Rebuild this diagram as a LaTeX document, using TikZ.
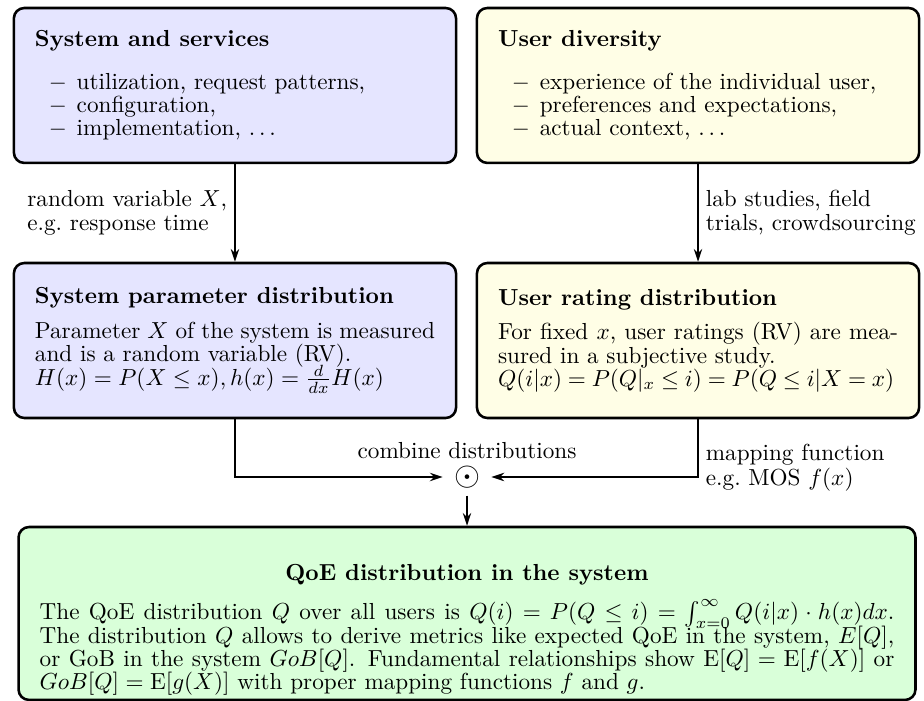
\documentclass[tikz,border=0pt]{standalone}
\usepackage{amsmath,amssymb}
\usepackage{tikz}
\usetikzlibrary{arrows.meta}

\newcommand{\boxfont}{\fontsize{10}{10}\selectfont\lineskiplimit=-10pt\relax}
\newcommand{\lblfont}{\fontsize{10}{10.5}\selectfont\lineskiplimit=-10pt\relax}
\newcommand{\dashitem}{\par\noindent\hspace*{6pt}\makebox[12pt][l]{$-$}}

\tikzset{
  card/.style={draw, line width=1.1pt, rounded corners=4.5pt, inner xsep=0.32cm, inner ysep=0pt,
    text width=6.06cm, minimum width=6.7cm, minimum height=2.348cm, align=justify, font=\boxfont},
  sysbox/.style={card, fill=blue!10},
  usrbox/.style={card, fill=yellow!10},
  qoebox/.style={card, fill=green!15, text width=12.95cm, minimum width=13.515cm, minimum height=2.62cm},
  lbl/.style={font=\lblfont, align=left, inner sep=3pt},
  conn/.style={thick, -{Stealth[length=5.5pt,width=3.6pt]}}
}

\begin{document}
\begin{tikzpicture}
    \useasboundingbox (0,0) rectangle (14,-10.621);

    %upper row
    \node[sysbox] (sys) at (3.56,-1.295) {\textbf{System and services}\par\vspace{8.3pt}
      \dashitem utilization, request patterns,
      \dashitem configuration,
      \dashitem implementation, $\ldots$};
    \node[usrbox] (usr) at (10.576,-1.295) {\textbf{User diversity}\par\vspace{8.3pt}
      \dashitem experience of the individual user,
      \dashitem preferences and expectations,
      \dashitem actual context, $\ldots$};

    %distributions
    \node[sysbox] (par) at (3.56,-5.159) {\textbf{System parameter distribution}\par\vspace{5pt}
      Parameter $X$ of the system is measured and is a random variable (RV).\\
      $H(x)=P(X\le x), h(x)=\frac{d}{dx}H(x)$};
    \node[usrbox] (rat) at (10.576,-5.159) {\textbf{User rating distribution}\par\vspace{5pt}
      For fixed $x$, user ratings (RV) are measured in a subjective study.\\
      \mbox{$\thickmuskip=4.5mu Q(i|x)=P(Q|_x\le i)=P(Q\le i|X=x)$}};

    %combination
    \node[inner xsep=4.7pt, inner ysep=3pt, font=\Large] (comb) at (7.076,-7.227) {$\odot$};
    \node[lbl, anchor=base] (lblcomb) at (7.076,-6.94) {combine distributions};
    \node[qoebox] (qoe) at (7.076,-9.295) {\rule{0pt}{21pt}{\centering\textbf{QoE distribution in the system}\par}\vspace{7pt}
      The QoE distribution $Q$ over all users is $Q(i)=P(Q\le i)=\int_{x=0}^{\infty}Q(i|x)\cdot h(x)dx$.
      The distribution $Q$ allows to derive metrics like expected QoE in the system, $E[Q]$,
      or GoB in the system $GoB[Q]$. Fundamental relationships show $\mathrm{E}[Q]=\mathrm{E}[f(X)]$ or
      $GoB[Q]=\mathrm{E}[g(X)]$ with proper mapping functions $f$ and $g$.};

    %connectors
    \draw[conn] (sys) -- node[lbl, left] (lblrv) {random variable $X$,\\ e.g.\ response time} (par);
    \draw[conn] (usr) -- node[lbl, right] (lbllab) {lab studies, field\\ trials, crowdsourcing} (rat);
    \draw[conn] (par.south) |- (comb);
    \draw[conn] (rat.south) |- node[lbl, right, pos=0.42] (lblmap) {mapping function\\ e.g.\ MOS $f(x)$} (comb);
    \draw[conn] (comb) -- (qoe);
\end{tikzpicture}
\end{document}
